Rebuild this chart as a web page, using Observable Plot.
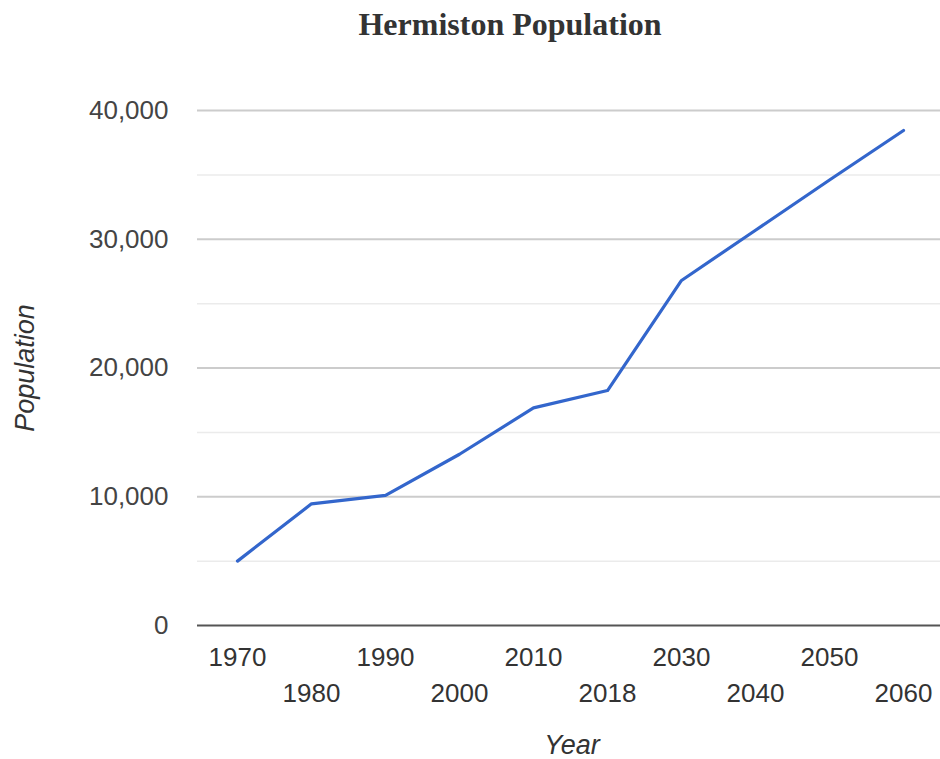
<!DOCTYPE html>
<html>
<head>
<meta charset="utf-8">
<script src="https://cdn.jsdelivr.net/npm/d3@7"></script>
<script src="https://cdn.jsdelivr.net/npm/@observablehq/plot@0.6"></script>
<style>
  body { margin: 0; background: #fff; overflow: hidden; }
  #wrap { position: relative; width: 940px; height: 759px; }
  #chart { position: absolute; left: 0; top: 0; }
  #title {
    position: absolute; left: 510px; top: 8px; transform: translateX(-50%);
    font-family: "Liberation Serif", "DejaVu Serif", serif; font-weight: bold;
    font-size: 32px; line-height: 32px; color: #333; white-space: nowrap;
  }
</style>
</head>
<body>
<div id="wrap">
  <div id="chart"></div>
  <div id="title">Hermiston Population</div>
</div>
<script>
const years = ["1970", "1980", "1990", "2000", "2010", "2018", "2030", "2040", "2050", "2060"];
const population = [5000, 9450, 10100, 13300, 16900, 18250, 26800, 30700, 34600, 38450];
const majorTicks = [0, 10000, 20000, 30000, 40000];
const minorTicks = [5000, 15000, 25000, 35000];
const xLabelRow1 = years.filter((d, i) => i % 2 === 0);
const xLabelRow2 = years.filter((d, i) => i % 2 === 1);
const yTitle = "Population";
const xTitle = "Year";

const data = years.map((y, i) => ({year: y, pop: population[i]}));

const font = "Liberation Sans, Arial, sans-serif";

const chart = Plot.plot({
  width: 940,
  height: 759,
  marginTop: 110,
  marginBottom: 134,
  marginLeft: 197,
  marginRight: 0,
  style: {fontFamily: font, background: "transparent", overflow: "visible"},
  x: {type: "point", domain: years, padding: 0.5, range: [198, 942], axis: null},
  y: {domain: [0, 40000], axis: null},
  marks: [
    Plot.ruleY(minorTicks, {stroke: "#ebebeb", strokeWidth: 1.5}),
    Plot.ruleY(majorTicks.slice(1), {stroke: "#cccccc", strokeWidth: 2}),
    Plot.ruleY([0], {stroke: "#555555", strokeWidth: 2}),
    Plot.axisY(majorTicks, {
      tickSize: 0, tickPadding: 29, fontSize: 26, fill: "#444",
      tickFormat: d3.format(","), label: null
    }),
    Plot.axisX(xLabelRow1, {
      tickSize: 0, tickPadding: 22, fontSize: 26, fill: "#333", label: null
    }),
    Plot.axisX(xLabelRow2, {
      tickSize: 0, tickPadding: 58, fontSize: 26, fill: "#333", label: null
    }),
    Plot.line(data, {x: "year", y: "pop", stroke: "#3366cc", strokeWidth: 3.2, strokeLinejoin: "round", strokeLinecap: "round"}),
    Plot.text([yTitle], {
      frameAnchor: "left", dx: -164, rotate: -90, textAnchor: "middle",
      lineAnchor: "bottom", fontSize: 27, fontStyle: "italic", fill: "#333"
    }),
    Plot.text([xTitle], {
      frameAnchor: "bottom", dy: 128, dx: 3, textAnchor: "middle",
      lineAnchor: "bottom", fontSize: 27, fontStyle: "italic", fill: "#333"
    })
  ]
});
document.getElementById("chart").appendChild(chart);
</script>
</body>
</html>
